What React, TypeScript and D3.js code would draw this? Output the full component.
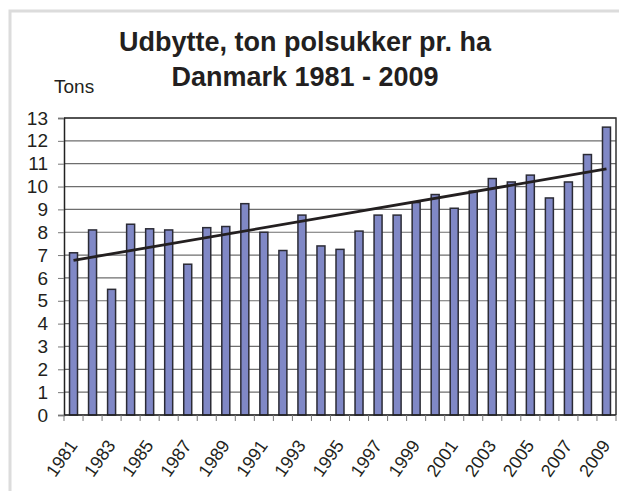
import React, { useEffect, useRef } from "react";
import * as d3 from "d3";

const years = [
  1981, 1982, 1983, 1984, 1985, 1986, 1987, 1988, 1989, 1990, 1991, 1992, 1993, 1994, 1995,
  1996, 1997, 1998, 1999, 2000, 2001, 2002, 2003, 2004, 2005, 2006, 2007, 2008, 2009,
];
const yields = [
  7.1, 8.1, 5.5, 8.35, 8.15, 8.1, 6.6, 8.2, 8.25, 9.25, 8.0, 7.2, 8.75, 7.4, 7.25,
  8.05, 8.75, 8.75, 9.3, 9.65, 9.05, 9.8, 10.35, 10.2, 10.5, 9.5, 10.2, 11.4, 12.6,
];
const yTicks = [0, 1, 2, 3, 4, 5, 6, 7, 8, 9, 10, 11, 12, 13];
const titleLines = ["Udbytte, ton polsukker pr. ha", "Danmark 1981 - 2009"];
const yAxisTitle = "Tons";

const FONT = "Arial, 'Liberation Sans', Helvetica, sans-serif";

const App = () => {
  const svgRef = useRef<SVGSVGElement>(null);

  useEffect(() => {
    const svg = d3.select(svgRef.current);
    svg.selectAll("*").remove();

    const width = 619;
    const height = 491;
    const margin = { top: 118, right: 3, bottom: 76, left: 64 };
    const chartWidth = width - margin.left - margin.right;
    const chartHeight = height - margin.top - margin.bottom;

    // outer frame (cut off at right and bottom)
    svg
      .append("rect")
      .attr("x", 10)
      .attr("y", 11)
      .attr("width", 800)
      .attr("height", 800)
      .attr("fill", "#fff")
      .attr("stroke", "#dcdcdc")
      .attr("stroke-width", 3);

    svg
      .append("text")
      .attr("text-anchor", "middle")
      .attr("font-family", FONT)
      .attr("font-weight", "bold")
      .attr("font-size", 27)
      .attr("fill", "#231f20")
      .selectAll("tspan")
      .data(titleLines)
      .join("tspan")
      .attr("x", 305)
      .attr("y", (d, i) => 51 + i * 35)
      .text((d) => d);

    svg
      .append("text")
      .attr("x", 54)
      .attr("y", 93)
      .attr("font-family", FONT)
      .attr("font-size", 19)
      .attr("fill", "#231f20")
      .text(yAxisTitle);

    const x = d3
      .scaleBand()
      .domain(years.map(String))
      .range([0, chartWidth])
      .paddingInner(0.58)
      .paddingOuter(0.29);

    const band = chartWidth / years.length;

    const y = d3.scaleLinear().domain([0, 13]).range([chartHeight, 0]);

    const g = svg
      .append("g")
      .attr("transform", `translate(${margin.left},${margin.top})`);

    // gridlines
    g.append("g")
      .selectAll("line")
      .data(yTicks)
      .join("line")
      .attr("x1", 0)
      .attr("x2", chartWidth)
      .attr("y1", (d) => y(d))
      .attr("y2", (d) => y(d))
      .attr("stroke", "#6e6e6e")
      .attr("stroke-width", 1.2);

    // plot border right/top
    g.append("path")
      .attr("d", `M0,0H${chartWidth}V${chartHeight}`)
      .attr("fill", "none")
      .attr("stroke", "#333")
      .attr("stroke-width", 1.5);

    // bars
    g.append("g")
      .selectAll("rect")
      .data(yields)
      .join("rect")
      .attr("x", (d, i) => x(String(years[i]))!)
      .attr("y", (d) => y(d))
      .attr("width", x.bandwidth())
      .attr("height", (d) => chartHeight - y(d))
      .attr("fill", "#8088c6")
      .attr("stroke", "#2b2b35")
      .attr("stroke-width", 1.5);

    // y axis
    const yAxis = g
      .append("g")
      .call(d3.axisLeft(y).tickValues(yTicks).tickSize(6).tickPadding(10));
    yAxis.select(".domain").attr("stroke", "#222").attr("stroke-width", 1.5);
    yAxis.selectAll(".tick line").attr("stroke", "#777");
    yAxis
      .selectAll(".tick text")
      .attr("font-family", FONT)
      .attr("font-size", 19)
      .attr("fill", "#231f20");

    // x axis ticks at category boundaries
    const xAxis = g.append("g").attr("transform", `translate(0,${chartHeight})`);
    xAxis
      .append("line")
      .attr("x1", 0)
      .attr("x2", chartWidth)
      .attr("stroke", "#222")
      .attr("stroke-width", 1.5);
    xAxis
      .selectAll("line.tk")
      .data(d3.range(years.length + 1))
      .join("line")
      .attr("class", "tk")
      .attr("x1", (d) => d * band)
      .attr("x2", (d) => d * band)
      .attr("y1", 0)
      .attr("y2", 6)
      .attr("stroke", "#777");
    xAxis
      .selectAll("text")
      .data(years.filter((d, i) => i % 2 === 0))
      .join("text")
      .attr("transform", (d) => {
        const cx = x(String(d))! + x.bandwidth() / 2 - 6;
        return `translate(${cx},${23}) rotate(-55)`;
      })
      .attr("text-anchor", "end")
      .attr("dy", "0.72em")
      .attr("font-family", FONT)
      .attr("font-size", 18)
      .attr("fill", "#231f20")
      .text((d) => d);

    // linear trendline (least squares)
    const xs = d3.range(years.length);
    const mx = d3.mean(xs)!;
    const my = d3.mean(yields)!;
    const slope =
      d3.sum(xs, (xi, i) => (xi - mx) * (yields[i] - my)) / d3.sum(xs, (xi) => (xi - mx) ** 2);
    const icpt = my - slope * mx;
    const line = d3
      .line<number>()
      .x((i) => x(String(years[i]))! + x.bandwidth() / 2)
      .y((i) => y(icpt + slope * i));
    g.append("path")
      .datum([0, years.length - 1])
      .attr("fill", "none")
      .attr("stroke", "#231f20")
      .attr("stroke-width", 2.8)
      .attr("d", line);
  }, []);

  return (
    <svg
      ref={svgRef}
      width={619}
      height={491}
      style={{ position: "absolute", left: 0, top: 0 }}
    ></svg>
  );
};

export default App;
